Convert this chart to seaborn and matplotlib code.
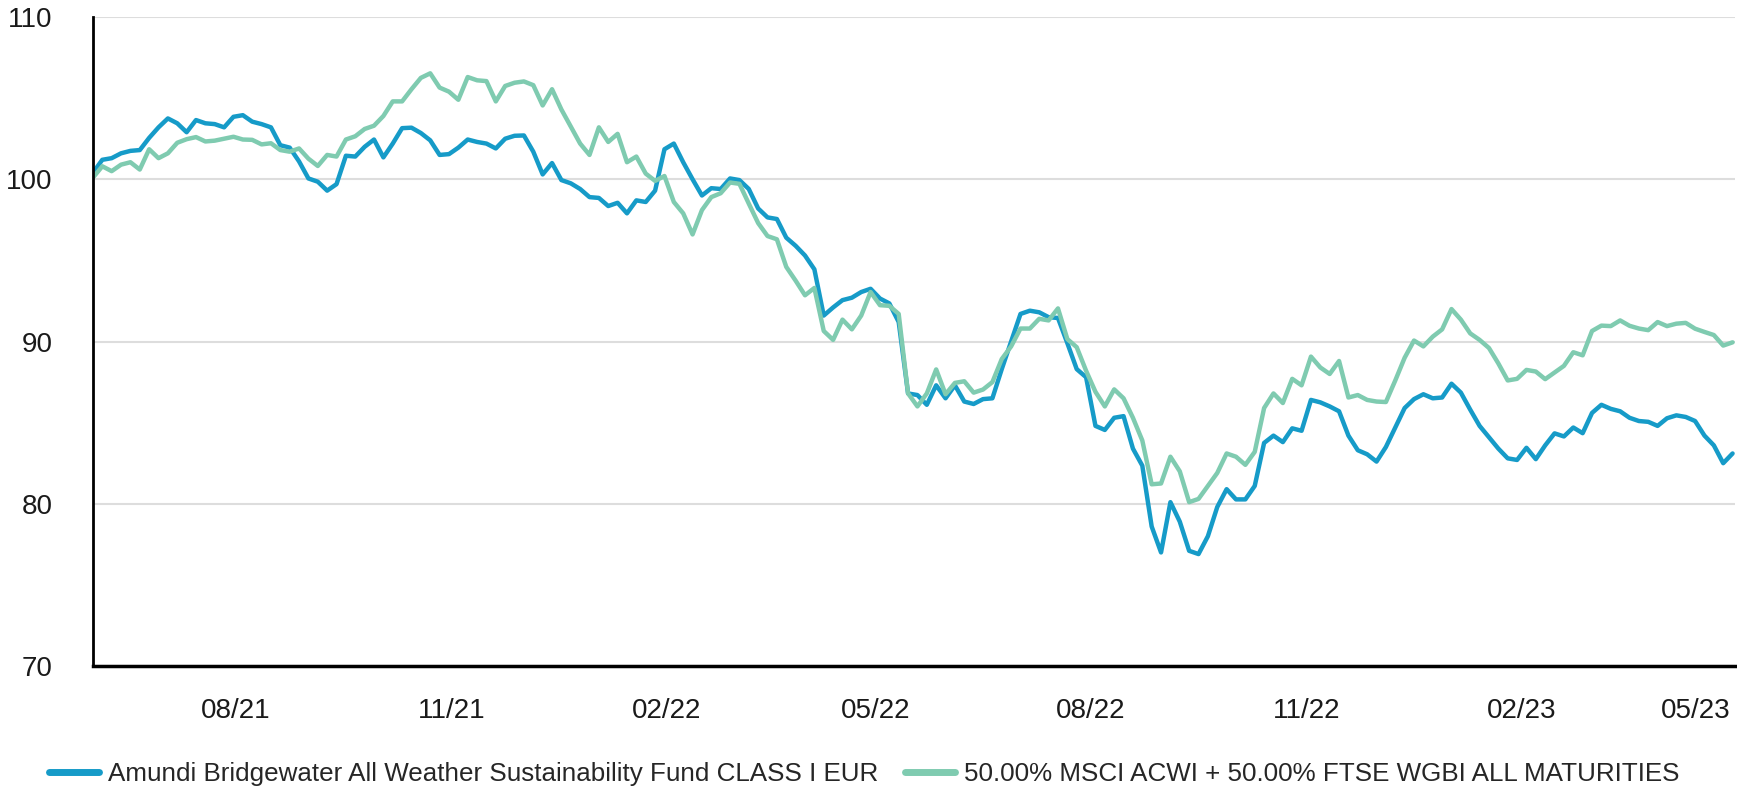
import pandas as pd
import numpy as np
import matplotlib.pyplot as plt
import matplotlib.dates as mdates
from matplotlib.lines import Line2D
import seaborn as sns

# ---------------- SETTINGS ----------------
sns.set_style("white")
plt.rcParams["font.family"] = ["Liberation Sans", "DejaVu Sans"]

FUND = "Amundi Bridgewater All Weather Sustainability Fund CLASS I EUR"
BENCH = "50.00% MSCI ACWI + 50.00% FTSE WGBI ALL MATURITIES"
fund_color = "#169bc8"
bench_color = "#7fcbb0"

# ---------------- DATA (rebased to 100) ----------------
dates = pd.date_range("2021-06-01", periods=176, freq="4D")

fund_values = [
    100.4, 101.2, 101.3, 101.6, 101.75, 101.8, 102.55, 103.2, 103.75, 103.45,
    102.9, 103.65, 103.45, 103.4, 103.2, 103.85, 103.95, 103.55, 103.4, 103.2,
    102.1, 101.95, 101.1, 100.05, 99.85, 99.3, 99.7, 101.45, 101.4, 102.0,
    102.45, 101.35, 102.2, 103.15, 103.18, 102.85, 102.4, 101.5, 101.55, 101.95,
    102.45, 102.3, 102.2, 101.9, 102.5, 102.68, 102.7, 101.7, 100.3, 101.0,
    99.95, 99.75, 99.4, 98.9, 98.85, 98.35, 98.55, 97.9, 98.7, 98.6,
    99.3, 101.85, 102.2, 101.05, 100.0, 99.0, 99.45, 99.4, 100.05, 99.95,
    99.4, 98.2, 97.65, 97.55, 96.4, 95.9, 95.3, 94.45, 91.6, 92.1,
    92.55, 92.7, 93.05, 93.25, 92.65, 92.35, 91.2, 86.8, 86.7, 86.1,
    87.3, 86.5, 87.3, 86.3, 86.15, 86.45, 86.5, 88.3, 90.0, 91.7,
    91.9, 91.8, 91.5, 91.45, 89.9, 88.3, 87.8, 84.8, 84.55, 85.3,
    85.4, 83.4, 82.35, 78.6, 77.0, 80.1, 78.9, 77.1, 76.9, 78.0,
    79.8, 80.9, 80.27, 80.27, 81.1, 83.75, 84.2, 83.8, 84.65, 84.5,
    86.4, 86.25, 86.0, 85.7, 84.2, 83.3, 83.05, 82.6, 83.5, 84.7,
    85.9, 86.45, 86.75, 86.5, 86.55, 87.4, 86.85, 85.8, 84.8, 84.1,
    83.4, 82.8, 82.7, 83.45, 82.75, 83.6, 84.34, 84.15, 84.7, 84.35,
    85.6, 86.1, 85.85, 85.7, 85.3, 85.1, 85.05, 84.8, 85.27, 85.45,
    85.35, 85.1, 84.2, 83.6, 82.5, 83.1,
]

bench_values = [
    100.1, 100.8, 100.5, 100.9, 101.05, 100.6, 101.85, 101.3, 101.6, 102.25,
    102.47, 102.6, 102.33, 102.38, 102.5, 102.62, 102.45, 102.43, 102.15, 102.22,
    101.8, 101.7, 101.9, 101.27, 100.82, 101.5, 101.4, 102.45, 102.65, 103.1,
    103.3, 103.9, 104.8, 104.8, 105.55, 106.25, 106.53, 105.65, 105.4, 104.9,
    106.3, 106.1, 106.05, 104.8, 105.75, 105.95, 106.03, 105.8, 104.55, 105.55,
    104.3, 103.25, 102.2, 101.5, 103.2, 102.3, 102.8, 101.05, 101.4, 100.35,
    99.9, 100.2, 98.6, 97.9, 96.6, 98.1, 98.9, 99.14, 99.8, 99.72,
    98.5, 97.3, 96.5, 96.3, 94.6, 93.75, 92.85, 93.3, 90.65, 90.1,
    91.35, 90.75, 91.6, 93.05, 92.24, 92.2, 91.7, 86.8, 86.0, 86.8,
    88.28, 86.75, 87.45, 87.55, 86.85, 87.04, 87.5, 88.92, 89.7, 90.8,
    90.8, 91.4, 91.3, 92.04, 90.15, 89.65, 88.2, 86.9, 86.0, 87.05,
    86.5, 85.3, 83.9, 81.2, 81.25, 82.9, 82.0, 80.1, 80.3, 81.1,
    81.9, 83.1, 82.9, 82.4, 83.2, 85.9, 86.8, 86.21, 87.7, 87.3,
    89.07, 88.4, 88.0, 88.8, 86.55, 86.7, 86.4, 86.3, 86.27, 87.6,
    89.0, 90.06, 89.7, 90.3, 90.75, 92.0, 91.35, 90.5, 90.1, 89.6,
    88.65, 87.6, 87.7, 88.25, 88.15, 87.68, 88.09, 88.5, 89.34, 89.15,
    90.65, 90.98, 90.95, 91.3, 90.97, 90.8, 90.7, 91.2, 90.95, 91.1,
    91.15, 90.79, 90.59, 90.4, 89.75, 89.95,
]

y_ticks = [70, 80, 90, 100, 110]

df = pd.DataFrame({
    "date": list(dates) + list(dates),
    "value": fund_values + bench_values,
    "series": [FUND] * len(dates) + [BENCH] * len(dates),
})

# ---------------- PLOT ----------------
fig = plt.figure(figsize=(17.37, 7.88), dpi=100)
ax = fig.add_axes([0.0535, 0.1548, 0.9453, 0.8236])

sns.lineplot(
    data=df, x="date", y="value", hue="series",
    hue_order=[FUND, BENCH],
    palette={FUND: fund_color, BENCH: bench_color},
    linewidth=3.2, legend=False, ax=ax
)

ax.set_ylim(70, 110)
ax.set_yticks(y_ticks)
ax.set_xlim(pd.Timestamp("2021-06-01"), pd.Timestamp("2023-05-03"))
ax.xaxis.set_major_locator(mdates.MonthLocator(bymonth=(2, 5, 8, 11)))
ax.xaxis.set_major_formatter(mdates.DateFormatter("%m/%y"))
ax.set_xlabel("")
ax.set_ylabel("")

ax.yaxis.grid(True, color="#dddddd", linewidth=1.5)
ax.xaxis.grid(False)
ax.set_axisbelow(True)

ax.tick_params(axis="x", length=17, width=1, color="#c9d0e0",
               labelsize=20, pad=6, labelcolor="#1a1a1a")
ax.tick_params(axis="y", length=0, labelsize=20, pad=29,
               labelcolor="#1a1a1a")

# last date label sits flush with the right edge
fig.canvas.draw()
ax.get_xticklabels()[-1].set_horizontalalignment("right")

for side in ["top", "right"]:
    ax.spines[side].set_visible(False)
ax.spines["left"].set_color("black")
ax.spines["left"].set_linewidth(2)
ax.spines["bottom"].set_color("black")
ax.spines["bottom"].set_linewidth(2.5)

handles = [Line2D([0], [0], color=fund_color, lw=5),
           Line2D([0], [0], color=bench_color, lw=5)]
fig.legend(handles, [FUND, BENCH], loc="center",
           bbox_to_anchor=(0.4975, 0.0175), ncol=2, frameon=False,
           fontsize=18.7, handlelength=1.9, handletextpad=0.35,
           columnspacing=1.05, borderpad=0.2)

fig.savefig("out.png", dpi=100)
plt.close()
